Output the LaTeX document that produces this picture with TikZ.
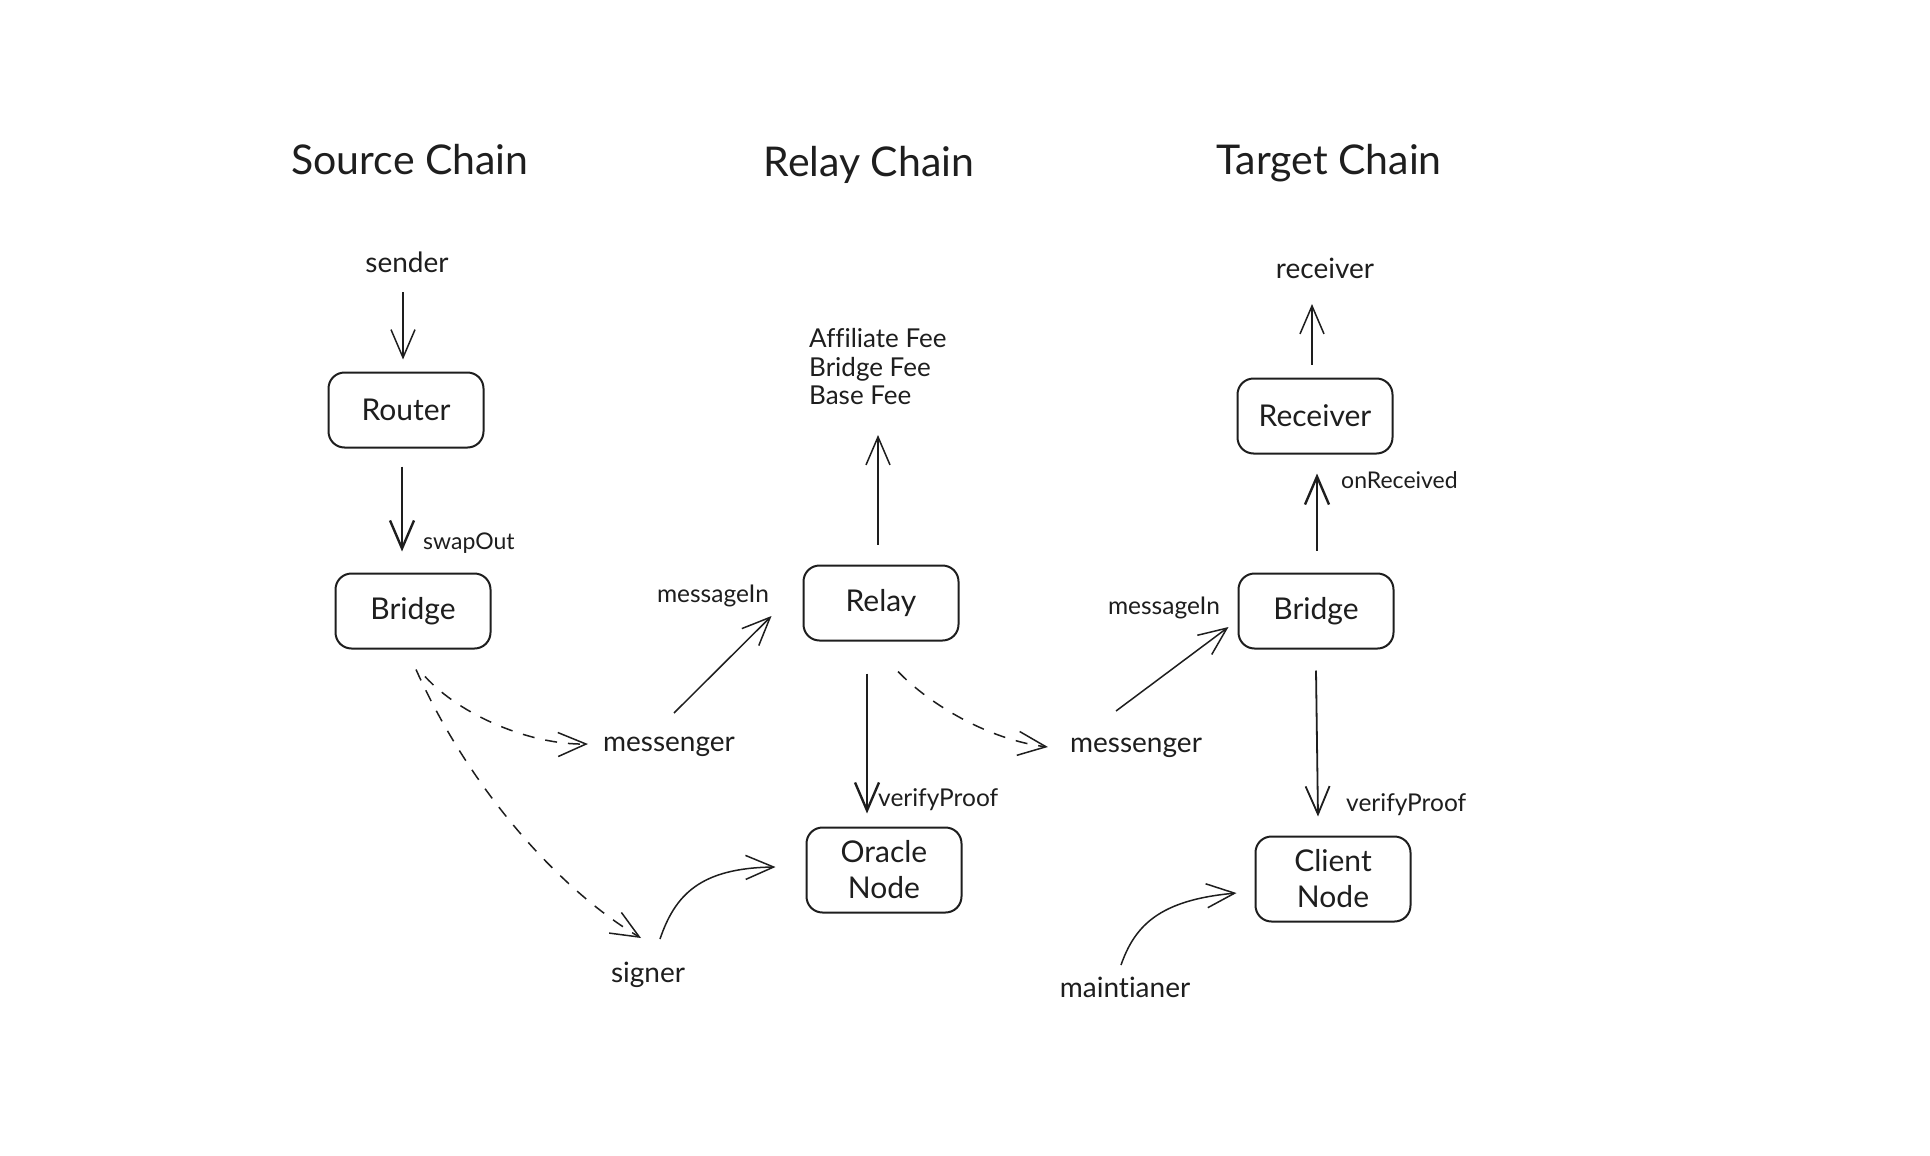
\documentclass[tikz,border=0pt]{standalone}
\usepackage{fontspec}
\setmainfont{Lato}[Ligatures={NoCommon}]
\usetikzlibrary{arrows.meta}
\definecolor{ink}{HTML}{1E1E1E}
\tikzset{
 txt/.style={inner sep=0pt, text=ink},
 titletxt/.style={txt, font=\fontsize{41}{48}\selectfont},
 midtxt/.style={txt, font=\fontsize{28}{34}\selectfont},
 smalltxt/.style={txt, font=\fontsize{23}{28}\selectfont},
 smalltxtb/.style={txt, font=\fontsize{24.5}{28}\selectfont},
 box/.style={draw=ink, line width=2pt, rounded corners=16pt, minimum width=155pt, minimum height=75pt, font=\fontsize{30}{36}\selectfont, text=ink, align=center},
 arr/.style={draw=ink, line width=1.5pt, -{Straight Barb[length=28pt,width=24pt]}},
 arrthick/.style={arr, line width=2.4pt},
 dasharr/.style={arr, dash pattern=on 12pt off 11pt},
}
\begin{document}
\begin{tikzpicture}[x=1pt,y=-1pt]
\fill[white] (0,0) rectangle (1930,1156);
\useasboundingbox (0,0) rectangle (1930,1156);

% titles
\node[titletxt] (tsrc) at (410,160) {Source Chain};
\node[titletxt] (trel) at (869,165) {Relay Chain};
\node[titletxt] (ttgt) at (1329,163) {Target Chain};

% source chain
\node[midtxt] (sender) at (407,262) {sender};
\node[box] (router) at (406,410) {Router};
\node[box] (bridgeL) at (413,611) {Bridge};
\node[smalltxt, anchor=west] (swap) at (423,543) {swapOut};

% relay chain
\node[box] (relay) at (881,603) {Relay};
\node[box, minimum height=85pt] (oracle) at (884,870) {Oracle\\Node};
\node[txt, font=\fontsize{26}{28.5}\selectfont, anchor=west, align=left] (fees) at (809,367) {Affiliate Fee\\Bridge Fee\\Base Fee};
\node[smalltxtb] (msgInL) at (713,596) {messageIn};
\node[midtxt] (messL) at (669,747) {messenger};
\node[midtxt] (signer) at (648,975) {signer};
\node[smalltxtb, anchor=west] (vpL) at (878,800) {verifyProof};

% target chain
\node[midtxt] (recvtxt) at (1325,268) {receiver};
\node[box] (receiver) at (1315,416) {Receiver};
\node[box] (bridgeR) at (1316,611) {Bridge};
\node[box, minimum height=85pt] (client) at (1333,879) {Client\\Node};
\node[smalltxt, anchor=west] (onrec) at (1341,480) {onReceived};
\node[smalltxtb] (msgInR) at (1164,608) {messageIn};
\node[midtxt] (messR) at (1136,748) {messenger};
\node[smalltxtb, anchor=west] (vpR) at (1346,805) {verifyProof};
\node[midtxt] (maint) at (1125,987) {maintianer};

% connectors
\draw[arr] ([xshift=-4pt,yshift=-30pt]sender.center) -- ([xshift=-3pt,yshift=12pt]router.north);
\draw[arrthick] ([xshift=-4pt,yshift=-18pt]router.south) -- ([xshift=-11pt,yshift=21pt]bridgeL.north);
\draw[dasharr] ([xshift=12pt,yshift=-27pt]bridgeL.south) .. controls (460,715) and (530,745) .. ([xshift=-15pt,yshift=3pt]messL.west);
\draw[dasharr] ([xshift=3pt,yshift=-20pt]bridgeL.south) .. controls (470,790) and (560,890) .. ([xshift=-7pt,yshift=37pt]signer.center);
\draw[arr] ([xshift=5pt,yshift=34pt]messL.center) -- ([xshift=-31pt,yshift=-13pt]relay.west);
\draw[arr] ([xshift=-3pt,yshift=20pt]relay.north) -- ([xshift=69pt,yshift=-68pt]fees.west);
\draw[arrthick] ([xshift=-14pt,yshift=-32pt]relay.south) -- ([xshift=-17pt,yshift=13pt]oracle.north);
\draw[dasharr] ([xshift=17pt,yshift=-30pt]relay.south) .. controls (930,705) and (990,740) .. ([xshift=-22pt,yshift=1pt]messR.west);
\draw[arr] ([xshift=12pt,yshift=36pt]signer.center) .. controls (675,895) and (700,868) .. ([xshift=-30pt,yshift=3pt]oracle.west);
\draw[arr] ([xshift=-20pt,yshift=37pt]messR.center) -- ([xshift=-9pt,yshift=-16pt]bridgeR.west);
\draw[arrthick] ([xshift=1pt,yshift=22pt]bridgeR.north) -- ([xshift=2pt,yshift=-19pt]receiver.south);
\draw[arr] ([xshift=-3pt,yshift=13pt]receiver.north) -- ([xshift=-13pt,yshift=-36pt]recvtxt.center);
\draw[arr, line width=1.8pt] ([yshift=-21pt]bridgeR.south) -- ([xshift=-15pt,yshift=19pt]client.north);
\draw[arr] ([xshift=-4pt,yshift=22pt]maint.center) .. controls (1135,925) and (1160,900) .. ([xshift=-18pt,yshift=-14pt]client.west);
\end{tikzpicture}
\end{document}
